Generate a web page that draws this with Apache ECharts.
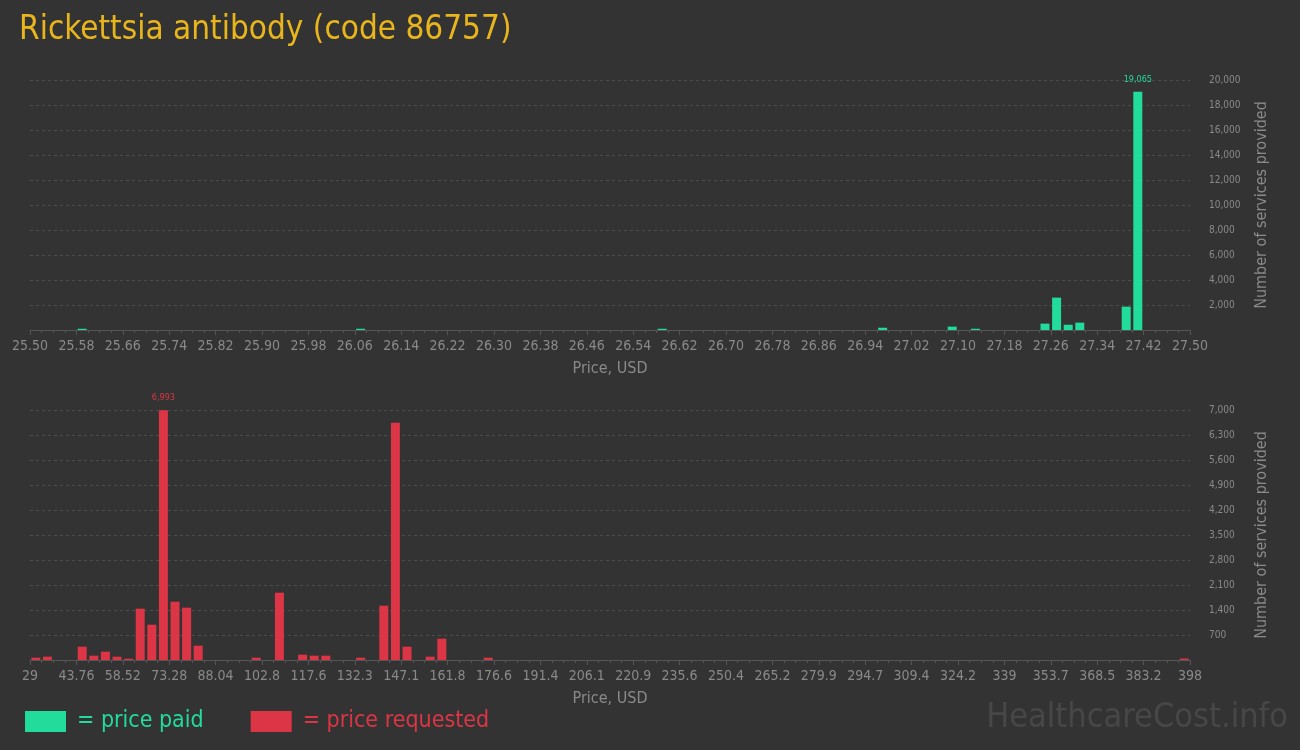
<!DOCTYPE html>
<html>
<head>
<meta charset="utf-8">
<script src="https://cdn.jsdelivr.net/npm/echarts@6/dist/echarts.min.js"></script>
<style>
html,body{margin:0;padding:0;background:#333333;}
#chart{width:1300px;height:750px;}
</style>
</head>
<body>
<div id="chart"></div>
<script>
// ---- data ----
const titleText = 'Rickettsia antibody (code 86757)';
// price paid histogram (bin centers, USD) and counts
const paidPrices = [25.59, 26.07, 26.59, 26.97, 27.09, 27.13, 27.25, 27.27, 27.29, 27.31, 27.39, 27.41];
const paidCounts = [100, 100, 100, 180, 270, 100, 510, 2590, 420, 590, 1870, 19065];
// price requested histogram (bin centers, USD) and counts
const reqPrices = [30.85, 34.54, 45.61, 49.30, 52.99, 56.68, 60.37, 64.06, 67.75, 71.44, 75.13, 78.82, 82.51,
  100.96, 108.34, 115.72, 119.41, 123.10, 134.17, 141.55, 145.24, 148.93, 156.31, 160.00, 174.76, 396.16];
const reqCounts = [65, 93, 373, 121, 233, 93, 37, 1437, 989, 6993, 1633, 1465, 401,
  65, 1885, 149, 121, 121, 65, 1521, 6645, 373, 93, 597, 65, 40];
// axis ranges
const paidAxis = {min: 25.50, max: 27.50, interval: 0.08};
const reqAxis = {min: 29, max: 398, interval: 14.76};
const paidY = {max: 20000, interval: 2000};
const reqY = {max: 7000, interval: 700};

const GREEN = '#22dc9b';
const RED = '#dc3545';
const FONT = '"Liberation Sans Narrow","DejaVu Sans Condensed","Roboto",sans-serif';
const GREY = '#8a8a8a';

function fmtComma(v){ return Math.round(v).toLocaleString('en-US'); }

function buildData(xs, ys, color){
  const maxV = Math.max.apply(null, ys);
  return xs.map((x, i) => {
    const item = {value: [x, ys[i]]};
    if (ys[i] === maxV) {
      item.label = {show: true, position: 'top', distance: 8, color: color,
        fontFamily: FONT, fontSize: 9, formatter: p => fmtComma(p.value[1])};
    }
    return item;
  });
}

function xAxisCfg(gridIndex, ax, fmt){
  return {
    type: 'value', gridIndex: gridIndex, min: ax.min, max: ax.max, interval: ax.interval,
    name: 'Price, USD', nameLocation: 'middle', nameGap: 31,
    nameTextStyle: {color: GREY, fontFamily: FONT, fontSize: 16},
    axisLine: {show: true, onZero: false, lineStyle: {color: '#555555'}},
    axisTick: {show: true, length: 5, lineStyle: {color: '#555555'}},
    minorTick: {show: true, splitNumber: 4, length: 3, lineStyle: {color: '#555555'}},
    splitLine: {show: false},
    axisLabel: {color: GREY, fontFamily: FONT, fontSize: 14, margin: 9, formatter: fmt, showMinLabel: true, showMaxLabel: true}
  };
}
function yAxisCfg(gridIndex, ay){
  return {
    type: 'value', gridIndex: gridIndex, position: 'right', min: 0, max: ay.max, interval: ay.interval,
    name: 'Number of services provided', nameLocation: 'middle', nameGap: 64, nameRotate: 90,
    nameTextStyle: {color: GREY, fontFamily: FONT, fontSize: 16},
    axisLine: {show: false}, axisTick: {show: false},
    splitLine: {show: true, lineStyle: {color: '#4d4d4d', type: [3, 3]}},
    axisLabel: {color: GREY, fontFamily: FONT, fontSize: 10, margin: 19,
      formatter: v => v === 0 ? '' : fmtComma(v)}
  };
}

const chart = echarts.init(document.getElementById('chart'), null, {renderer: 'canvas'});
chart.setOption({
  backgroundColor: '#333333',
  animation: false,
  title: {text: titleText, left: 14, top: 9,
    textStyle: {color: '#e9b51c', fontFamily: FONT, fontSize: 33, fontWeight: 'normal'}},
  legend: {
    left: 20, top: 705, itemWidth: 41, itemHeight: 21, itemGap: 47, icon: 'rect',
    selectedMode: false,
    textStyle: {fontFamily: FONT, fontSize: 23, padding: [0, 0, 0, 6]},
    data: [
      {name: '= price paid', textStyle: {color: GREEN}},
      {name: '= price requested', textStyle: {color: RED}}
    ]
  },
  grid: [
    {left: 30, right: 110, top: 80, height: 250},
    {left: 30, right: 110, top: 410, height: 250}
  ],
  xAxis: [
    xAxisCfg(0, paidAxis, v => v.toFixed(2)),
    xAxisCfg(1, reqAxis, v => String(parseFloat(v.toPrecision(4))))
  ],
  yAxis: [yAxisCfg(0, paidY), yAxisCfg(1, reqY)],
  series: [
    {name: '= price paid', type: 'bar', xAxisIndex: 0, yAxisIndex: 0, barWidth: 9,
      itemStyle: {color: GREEN}, data: buildData(paidPrices, paidCounts, GREEN)},
    {name: '= price requested', type: 'bar', xAxisIndex: 1, yAxisIndex: 1, barWidth: 9,
      itemStyle: {color: RED}, data: buildData(reqPrices, reqCounts, RED)}
  ],
  graphic: [
    {type: 'text', right: 12, top: 701,
      style: {text: 'HealthcareCost.info', fill: '#474747', font: '34px ' + FONT}}
  ]
});
</script>
</body>
</html>
